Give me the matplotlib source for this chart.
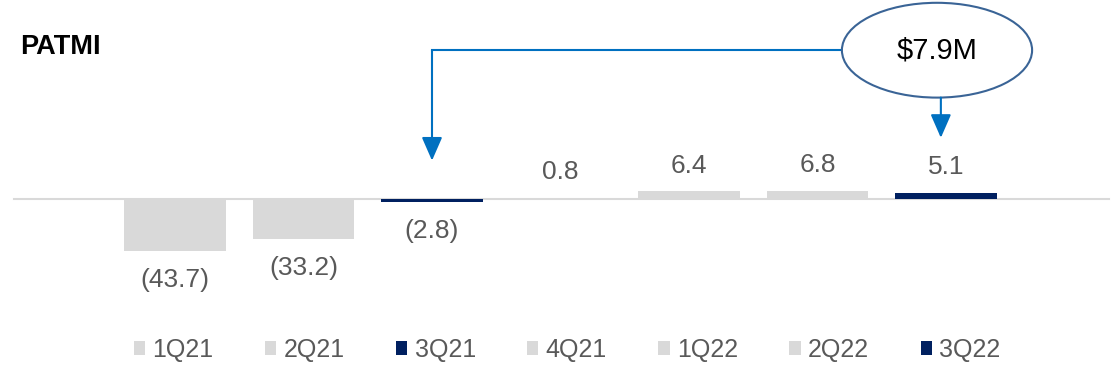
import matplotlib.pyplot as plt
from matplotlib.patches import Ellipse

plt.rcParams['font.family'] = ['Liberation Sans', 'DejaVu Sans']

# Data
quarters = ['1Q21', '2Q21', '3Q21', '4Q21', '1Q22', '2Q22', '3Q22']
patmi = [-43.7, -33.2, -2.8, 0.8, 6.4, 6.8, 5.1]
highlight = ['3Q21', '3Q22']
callout = '$7.9M'

grey = '#D9D9D9'
navy = '#002060'
blue = '#0070C0'
text_col = '#595959'

fig = plt.figure(figsize=(11.14, 3.79), dpi=100)
ax = fig.add_axes([0, 0, 1, 1])

# pixel-ish scale: bar spacing 128.5px, 1.2px per unit
ax.set_xlim(-175 / 128.5, (1114 - 175) / 128.5)
ax.set_ylim(-180 / 1.2, (379 - 180) / 1.2)
ax.axis('off')

handles = []
for i, (q, v) in enumerate(zip(quarters, patmi)):
    c = navy if q in highlight else grey
    b = ax.bar(i, v, width=0.79, color=c, label=q, zorder=2)
    handles.append(b)
    if v < 0:
        lab = '({:.1f})'.format(-v)
        ax.text(i, v - 24, lab, ha='center', va='center', fontsize=19, color=text_col)
    else:
        lab = '{:.1f}'.format(v)
        ax.text(i, v + 21.5, lab, ha='center', va='center', fontsize=19, color=text_col)

# zero line
ax.plot([-1.25, 7.27], [0, 0], color=grey, lw=1.5, zorder=1)

# title
fig.text(0.018, 0.876, 'PATMI', fontsize=19.5, fontweight='bold', color='black', va='center')

# callout ellipse + arrows
i3 = quarters.index('3Q21')
ecx, ecy, ew, eh = 5.93, 124, 1.48, 79
ax.add_patch(Ellipse((ecx, ecy), ew, eh, facecolor='white', edgecolor='#3A6496', lw=1.5, zorder=3))
ax.text(ecx, ecy, callout, ha='center', va='center', fontsize=21, color='black', zorder=4)

ax.plot([ecx - ew / 2, i3], [ecy, ecy], color=blue, lw=1.5, zorder=2)
ax.annotate('', xy=(i3, 32), xytext=(i3, ecy),
            arrowprops=dict(arrowstyle='-|>,head_length=0.8,head_width=0.35', color=blue, lw=1.5,
                            shrinkA=0, shrinkB=0, mutation_scale=18))
ax.annotate('', xy=(ecx + 0.03, 51), xytext=(ecx + 0.03, ecy - eh / 2),
            arrowprops=dict(arrowstyle='-|>,head_length=0.8,head_width=0.35', color=blue, lw=1.5,
                            shrinkA=0, shrinkB=0, mutation_scale=18))

leg = ax.legend(handles=handles, labels=quarters, ncol=7, loc='center', bbox_to_anchor=(0.509, 29 / 379),
                frameon=False, fontsize=18, handlelength=0.45, handleheight=0.45, handletextpad=0.3,
                columnspacing=2.05)
for t in leg.get_texts():
    t.set_color(text_col)

fig.savefig('out.png', dpi=100)
